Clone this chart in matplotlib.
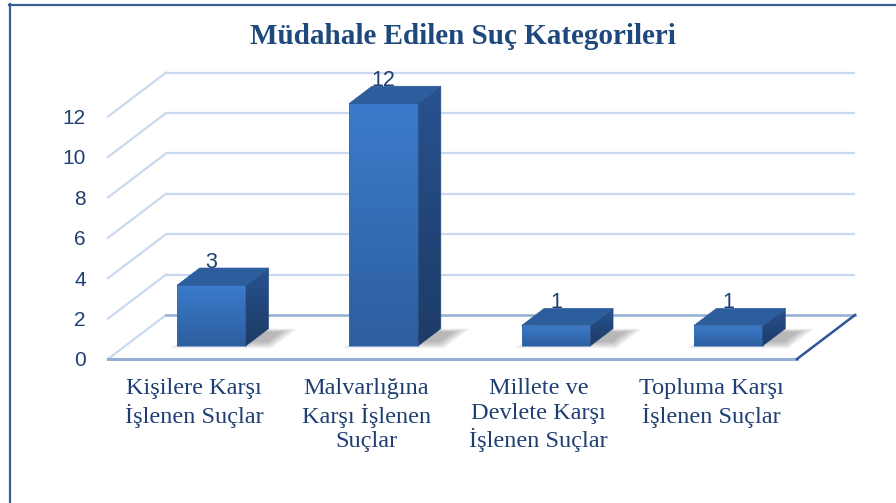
import numpy as np
import matplotlib
matplotlib.use("Agg")
import matplotlib.pyplot as plt
from matplotlib.patches import Polygon
from matplotlib.lines import Line2D
from matplotlib.colors import LinearSegmentedColormap

# ---- data ----
title = "Müdahale Edilen Suç Kategorileri"
categories = ["Kişilere Karşı\nİşlenen Suçlar",
              "Malvarlığına\nKarşı İşlenen\nSuçlar",
              "Millete ve\nDevlete Karşı\nİşlenen Suçlar",
              "Topluma Karşı\nİşlenen Suçlar"]
values = [3, 12, 1, 1]
yticks = [0, 2, 4, 6, 8, 10, 12]

# ---- style ----
W, H = 896, 503
DX, DY = 58, 44          # full depth offset in pixels
D0, D1 = 0.30, 0.69      # bar depth range (fraction of floor depth)
BAR_W = 0.40
grid_c = "#C9D9EE"
floor_c = "#93AED4"
edge_c = "#2F5597"
text_c = "#1F3F73"
front_cmap = LinearSegmentedColormap.from_list("front", ["#2D5E9F", "#3B7BCB"])
side_cmap = LinearSegmentedColormap.from_list("side", ["#1D3B66", "#285290"])

fig = plt.figure(figsize=(W / 100, H / 100), dpi=100)
fig.patch.set_facecolor("white")
ax = fig.add_axes([108 / W, 144 / H, 689 / W, 20.2 * 14 / H])
XL, YL = (0, 4), (0, 14)
ax.set_xlim(*XL)
ax.set_ylim(*YL)
ax.patch.set_alpha(0)
for s in ax.spines.values():
    s.set_visible(False)

fig.canvas.draw()
inv = ax.transData.inverted()
o0 = inv.transform(ax.transData.transform((0, 0)))
o1 = inv.transform(ax.transData.transform((0, 0)) + np.array([DX, DY]))
ox, oy = o1 - o0


def P(x, v, d):
    return (x + d * ox, v + d * oy)


n = len(values)
# ---- walls / gridlines ----
for v in yticks:
    if v == 0:
        continue
    ax.plot([P(0, v, 1)[0], P(n, v, 1)[0]], [P(0, v, 1)[1]] * 2,
            color=grid_c, lw=1.6, clip_on=False, zorder=1, solid_capstyle="butt")
    a, b = P(0, v, 0), P(0, v, 1)
    ax.plot([a[0], b[0]], [a[1], b[1]], color=grid_c, lw=1.6, clip_on=False, zorder=1)

# floor
a, b = P(0, 0, 0), P(0, 0, 1)
ax.plot([a[0], b[0]], [a[1], b[1]], color=grid_c, lw=1.6, clip_on=False, zorder=1)
a, b = P(0, 0, 1), P(n, 0, 1)
ax.plot([a[0], b[0]], [a[1], b[1]], color=floor_c, lw=1.8, clip_on=False, zorder=1)
a, b = P(0, 0, 0), P(n, 0, 0)
ax.plot([a[0], b[0]], [a[1], b[1]], color=floor_c, lw=2.2, clip_on=False, zorder=1)
a, b = P(n, 0, 0), P(n, 0, 1)
ax.plot([a[0], b[0]], [a[1], b[1]], color=edge_c, lw=1.8, clip_on=False, zorder=1)


def gradient_face(corners, cmap, z):
    poly = Polygon(corners, closed=True, facecolor="none", edgecolor="none",
                   clip_on=False, zorder=z)
    ax.add_patch(poly)
    xs = [c[0] for c in corners]
    ys = [c[1] for c in corners]
    grad = np.linspace(0, 1, 256).reshape(-1, 1) * np.ones((1, 2))
    im = ax.imshow(grad, extent=[min(xs), max(xs), min(ys), max(ys)], origin="lower",
                   aspect="auto", cmap=cmap, interpolation="bilinear", zorder=z)
    im.set_clip_path(poly)
    ax.add_patch(Polygon(corners, closed=True, facecolor="none",
                         edgecolor=cmap(0.5), lw=0.4, clip_on=False, zorder=z))


# ---- bars ----
for i, v in enumerate(values):
    x0, x1 = i + 0.5 - BAR_W / 2, i + 0.5 + BAR_W / 2
    # shadow
    for k in range(7):
        e = 0.012 * k
        sh = [P(x0 - 0.03 + e, 0, D0 - 0.06 + e * 2), P(x1 + 0.17 - e, 0, D0 - 0.06 + e * 2),
              P(x1 + 0.17 - e, 0, D1 - e), P(x0 + 0.05 + e, 0, D1 - e)]
        ax.add_patch(Polygon(sh, closed=True, facecolor="black", edgecolor="none",
                             alpha=0.045, clip_on=False, zorder=2))
    front = [P(x0, 0, D0), P(x1, 0, D0), P(x1, v, D0), P(x0, v, D0)]
    gradient_face(front, front_cmap, 3)
    side = [P(x1, 0, D0), P(x1, 0, D1), P(x1, v, D1), P(x1, v, D0)]
    gradient_face(side, side_cmap, 3)
    top = [P(x0, v, D0), P(x1, v, D0), P(x1, v, D1), P(x0, v, D1)]
    ax.add_patch(Polygon(top, closed=True, facecolor="#2C5D9C", edgecolor="#2C5D9C", lw=0.5,
                         clip_on=False, zorder=3))
    # value label
    lx = P(i + 0.5, v, D0)[0]
    ly = P(i + 0.5, v, D1)[1]
    ax.text(lx, ly, str(v), ha="center", va="baseline", fontsize=15.5,
            family="Liberation Sans", color=text_c, zorder=5, clip_on=False)

ax.set_xlim(*XL)
ax.set_ylim(*YL)

# ---- axes labels ----
ax.set_yticks(yticks)
ax.set_yticklabels([str(t) for t in yticks], fontsize=15, family="Liberation Sans",
                   color=text_c)
ax.tick_params(axis="y", length=0, pad=16)
ax.set_xticks([i + 0.5 for i in range(n)])
ax.set_xticklabels(categories, fontsize=17.5, family="Liberation Serif", color=text_c,
                   linespacing=1.22, va="top")
ax.tick_params(axis="x", length=0, pad=14)

# ---- title ----
fig.text(463 / W, 1 - 37 / H, title, ha="center", va="center", fontsize=21,
         family="Liberation Serif", fontweight="bold", color="#1F497D")

# ---- frame ----
fig.add_artist(Line2D([9.5 / W, 9.5 / W], [0, 1 - 4 / H], transform=fig.transFigure,
                      color="#3A5F94", lw=1.6))
fig.add_artist(Line2D([9 / W, 1], [1 - 4.5 / H, 1 - 4.5 / H], transform=fig.transFigure,
                      color="#3A5F94", lw=1.6))

fig.savefig("out.png", dpi=100, facecolor="white")
